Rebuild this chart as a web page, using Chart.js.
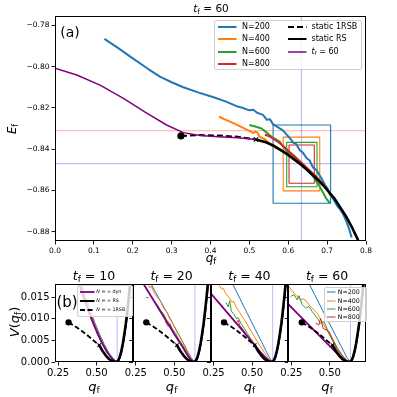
<!DOCTYPE html>
<html>
<head>
<meta charset="utf-8">
<script src="https://cdn.jsdelivr.net/npm/chart.js@4.4.0/dist/chart.umd.min.js"></script>
<style>
  body { margin: 0; width: 397px; height: 397px; position: relative; background: #fff; overflow: hidden; font-family: "DejaVu Sans", sans-serif; }
  canvas { position: absolute; left: 0; }
  .lbl { position: absolute; white-space: nowrap; color: #000; line-height: 1; transform: translate(-50%, -50%); }
  .lbl sub, .leg sub { font-size: 70%; vertical-align: -0.25em; line-height: 0; }
  .rot { transform: translate(-50%, -50%) rotate(-90deg); }
  .leg { position: absolute; background: rgba(255,255,255,0.8); border: 1px solid #d0d0d0; border-radius: 2px; box-sizing: border-box; }
  .leg div { position: absolute; white-space: nowrap; line-height: 1; transform: translateY(-50%); }
  .leg svg { position: absolute; overflow: visible; }
</style>
</head>
<body>
<canvas id="top" width="397" height="270" style="top:0"></canvas>
<canvas id="b1" width="397" height="127" style="top:270px"></canvas>
<canvas id="b2" width="397" height="127" style="top:270px"></canvas>
<canvas id="b3" width="397" height="127" style="top:270px"></canvas>
<canvas id="b4" width="397" height="127" style="top:270px"></canvas>

<div class="lbl" style="left:211px;top:7.5px;font-size:10.5px"><i>t</i><sub>f</sub> = 60</div>
<div class="lbl" style="left:70px;top:32px;font-size:14px">(a)</div>
<div class="lbl rot" style="left:13px;top:129px;font-size:11.5px"><i>E</i><sub>f</sub></div>
<div class="lbl" style="left:211px;top:258px;font-size:12px"><i>q</i><sub>f</sub></div>

<div class="lbl" style="left:94px;top:276px;font-size:12.5px"><i>t</i><sub>f</sub> = 10</div>
<div class="lbl" style="left:171.6px;top:276px;font-size:12.5px"><i>t</i><sub>f</sub> = 20</div>
<div class="lbl" style="left:249.4px;top:276px;font-size:12.5px"><i>t</i><sub>f</sub> = 40</div>
<div class="lbl" style="left:327.1px;top:276px;font-size:12.5px"><i>t</i><sub>f</sub> = 60</div>
<div class="lbl" style="left:67px;top:302px;font-size:15px">(b)</div>
<div class="lbl rot" style="left:14px;top:322px;font-size:13px"><i>V</i>(<i>q</i><sub>f</sub>)</div>
<div class="lbl" style="left:94px;top:386px;font-size:13px"><i>q</i><sub>f</sub></div>
<div class="lbl" style="left:171.6px;top:386px;font-size:13px"><i>q</i><sub>f</sub></div>
<div class="lbl" style="left:249.4px;top:386px;font-size:13px"><i>q</i><sub>f</sub></div>
<div class="lbl" style="left:327.1px;top:386px;font-size:13px"><i>q</i><sub>f</sub></div>

<div class="leg" style="left:214px;top:20px;width:148px;height:50px;font-size:8px">
  <svg style="left:2.5px;top:5.7px" width="19" height="1"><line x1="0" y1="0" x2="18.5" y2="0" stroke="#1f77b4" stroke-width="2"/></svg>
  <div style="left:27px;top:5.7px">N=200</div>
  <svg style="left:2.5px;top:18.2px" width="19" height="1"><line x1="0" y1="0" x2="18.5" y2="0" stroke="#ff7f0e" stroke-width="2"/></svg>
  <div style="left:27px;top:18.2px">N=400</div>
  <svg style="left:2.5px;top:30.7px" width="19" height="1"><line x1="0" y1="0" x2="18.5" y2="0" stroke="#2ca02c" stroke-width="2"/></svg>
  <div style="left:27px;top:30.7px">N=600</div>
  <svg style="left:2.5px;top:43.2px" width="19" height="1"><line x1="0" y1="0" x2="18.5" y2="0" stroke="#d62728" stroke-width="2"/></svg>
  <div style="left:27px;top:43.2px">N=800</div>
  <svg style="left:73px;top:5.7px" width="19" height="1"><line x1="0" y1="0" x2="18.5" y2="0" stroke="#000" stroke-width="2" stroke-dasharray="6,3"/></svg>
  <div style="left:96.5px;top:5.7px">static 1RSB</div>
  <svg style="left:73px;top:18.2px" width="19" height="1"><line x1="0" y1="0" x2="18.5" y2="0" stroke="#000" stroke-width="2"/></svg>
  <div style="left:96.5px;top:18.2px">static RS</div>
  <svg style="left:73px;top:30.7px" width="19" height="1"><line x1="0" y1="0" x2="18.5" y2="0" stroke="#800080" stroke-width="1.5"/></svg>
  <div style="left:96.5px;top:30.7px"><i>t</i><sub>f</sub> = 60</div>
</div>

<div class="leg" style="left:77.3px;top:285px;width:56px;height:31.5px;font-size:4.8px">
  <svg style="left:1.5px;top:6px" width="15" height="1"><line x1="0" y1="0" x2="14.5" y2="0" stroke="#800080" stroke-width="1.8"/></svg>
  <div style="left:18px;top:6px"><i>N</i> = ∞ dyn</div>
  <svg style="left:1.5px;top:15px" width="15" height="1"><line x1="0" y1="0" x2="14.5" y2="0" stroke="#000" stroke-width="2"/></svg>
  <div style="left:18px;top:15px"><i>N</i> = ∞ RS</div>
  <svg style="left:1.5px;top:24px" width="15" height="1"><line x1="0" y1="0" x2="14.5" y2="0" stroke="#000" stroke-width="1.8" stroke-dasharray="5,2.5"/></svg>
  <div style="left:18px;top:24px"><i>N</i> = ∞ 1RSB</div>
</div>

<div class="leg" style="left:324.3px;top:286.7px;width:42.4px;height:35px;font-size:6.3px">
  <svg style="left:1.5px;top:4.8px" width="9" height="1"><line x1="0" y1="0" x2="8.5" y2="0" stroke="#1f77b4" stroke-width="1"/></svg>
  <div style="left:12.5px;top:4.8px">N=200</div>
  <svg style="left:1.5px;top:13px" width="9" height="1"><line x1="0" y1="0" x2="8.5" y2="0" stroke="#ff7f0e" stroke-width="1"/></svg>
  <div style="left:12.5px;top:13px">N=400</div>
  <svg style="left:1.5px;top:21.2px" width="9" height="1"><line x1="0" y1="0" x2="8.5" y2="0" stroke="#2ca02c" stroke-width="1"/></svg>
  <div style="left:12.5px;top:21.2px">N=600</div>
  <svg style="left:1.5px;top:29.4px" width="9" height="1"><line x1="0" y1="0" x2="8.5" y2="0" stroke="#d62728" stroke-width="1"/></svg>
  <div style="left:12.5px;top:29.4px">N=800</div>
</div>

<script>
// ---- panel (a): E_f vs q_f at t_f = 60 ----
const topQTicks = [0.0, 0.1, 0.2, 0.3, 0.4, 0.5, 0.6, 0.7, 0.8];
const topETicks = [-0.88, -0.86, -0.84, -0.82, -0.80, -0.78];
const topQRange = [0, 0.8];
const topERange = [-0.8845, -0.7755];

const topN200 = [[0.127,-0.7866],[0.16,-0.7907],[0.20,-0.7960],[0.24,-0.8012],[0.27,-0.8049],[0.30,-0.8076],
  [0.33,-0.8100],[0.37,-0.8126],[0.41,-0.8150],[0.44,-0.8170],[0.467,-0.8192],[0.48,-0.8198],[0.50,-0.8212],
  [0.51,-0.8209],[0.52,-0.8224],[0.535,-0.8234],[0.545,-0.8258],[0.553,-0.8255],[0.561,-0.8280],[0.57,-0.8290],
  [0.58,-0.8302],[0.587,-0.8310],[0.596,-0.8330],[0.604,-0.8347],[0.613,-0.8368],[0.62,-0.8375],[0.63,-0.8405],
  [0.638,-0.8418],[0.647,-0.8443],[0.655,-0.8455],[0.664,-0.8490],[0.672,-0.8500],[0.681,-0.8528],[0.688,-0.8550],
  [0.695,-0.8575],[0.701,-0.8590],[0.707,-0.8620],[0.714,-0.8635],[0.72,-0.8655],[0.727,-0.8678],[0.733,-0.8690],
  [0.742,-0.8718],[0.750,-0.8752],[0.757,-0.8790],[0.763,-0.8828]];
const topN400 = [[0.422,-0.8243],[0.44,-0.8258],[0.46,-0.8275],[0.48,-0.8293],[0.50,-0.8312],[0.51,-0.8322],
  [0.515,-0.8315],[0.521,-0.8320],[0.526,-0.8339],[0.54,-0.8352],[0.561,-0.8388],[0.587,-0.8412],[0.60,-0.8428],
  [0.62,-0.8458],[0.65,-0.8502],[0.68,-0.8556],[0.70,-0.8598],[0.72,-0.8645]];
const topN600 = [[0.50,-0.8283],[0.515,-0.8290],[0.531,-0.8300],[0.545,-0.8320],[0.557,-0.8340],[0.568,-0.8352],
  [0.578,-0.8364],[0.59,-0.8395],[0.60,-0.8418],[0.608,-0.8428],[0.62,-0.8448],[0.635,-0.8475],[0.65,-0.8502],
  [0.665,-0.8535],[0.681,-0.8581],[0.69,-0.8612],[0.698,-0.8640],[0.707,-0.8662]];
const topN800 = [[0.54,-0.8330],[0.55,-0.8336],[0.56,-0.8348],[0.57,-0.8360],[0.58,-0.8374],[0.59,-0.8390],
  [0.60,-0.8408],[0.615,-0.8432],[0.63,-0.8458],[0.645,-0.8485],[0.66,-0.8512],[0.675,-0.8540],[0.69,-0.8568]];
const top1RSB = [[0.324,-0.8336],[0.37,-0.8332],[0.42,-0.8334],[0.47,-0.8340],[0.517,-0.8353]];
const topRS = [[0.517,-0.8353],[0.54,-0.8365],[0.56,-0.8381],[0.58,-0.8404],[0.60,-0.8428],[0.63,-0.8470],
  [0.66,-0.8520],[0.69,-0.8575],[0.72,-0.8642],[0.75,-0.8730],[0.765,-0.8783],[0.78,-0.8842]];
const topTf60 = [[0.0,-0.8008],[0.056,-0.8041],[0.116,-0.8090],[0.176,-0.8154],[0.236,-0.8226],[0.287,-0.8283],
  [0.33,-0.8320],[0.373,-0.8334],[0.42,-0.8340],[0.47,-0.8345],[0.517,-0.8353]];
const topDot = [0.324, -0.8336];
const topCross = [0.517, -0.8353];
// boxes: [q0, q1, E0, E1] for N = 200, 400, 600, 800
const boxN200 = [0.561, 0.709, -0.8662, -0.8283];
const boxN400 = [0.587, 0.681, -0.8602, -0.8342];
const boxN600 = [0.596, 0.674, -0.8582, -0.8367];
const boxN800 = [0.602, 0.667, -0.8565, -0.8380];
const qStar = 0.634;
const eRed = -0.831;
const eBlue = -0.847;

// ---- panels (b): V(q_f) ----
const botQTicks = [0.25, 0.50];
const botVTicks = [0.000, 0.005, 0.010, 0.015];
const botQRange = [0.23, 0.735];
const botVRange = [0, 0.0181];

const bRS = [[0.517,0.0039],[0.54,0.0025],[0.56,0.0015],[0.58,0.0007],[0.60,0.00025],[0.615,0.00005],[0.628,0],
  [0.64,0.0003],[0.65,0.0011],[0.66,0.0024],[0.67,0.0042],[0.68,0.0064],[0.69,0.0089],[0.70,0.0119],
  [0.71,0.0153],[0.72,0.0190]];
const b1RSB = [[0.318,0.0092],[0.36,0.0083],[0.40,0.0073],[0.44,0.0062],[0.48,0.0050],[0.517,0.0039]];
const bDot = [0.318, 0.0092];
const bCross = [0.517, 0.0039];
const rightBlue = [[0.633,0],[0.645,0.0005],[0.655,0.0014],[0.665,0.0028],[0.675,0.0047],[0.685,0.0070],
  [0.695,0.0096],[0.705,0.0127],[0.715,0.0161],[0.724,0.0195]];
const rightColor = [[0.631,0],[0.643,0.0004],[0.653,0.0012],[0.663,0.0026],[0.673,0.0044],[0.683,0.0066],
  [0.693,0.0092],[0.703,0.0122],[0.713,0.0156],[0.722,0.0192]];

const tf10N200 = [[0.40,0.0185],[0.43,0.0150],[0.46,0.0119],[0.49,0.0090],[0.52,0.0064],[0.55,0.0041],[0.58,0.0021],[0.61,0.0007]];
const tf10N400 = [[0.395,0.0185],[0.425,0.0149],[0.455,0.0118],[0.485,0.0089],[0.515,0.0063],[0.545,0.0041],[0.575,0.0021],[0.605,0.0007]];
const tf10N600 = [[0.38,0.0185],[0.41,0.0150],[0.43,0.0132],[0.44,0.0127],[0.45,0.0112],[0.47,0.0097],[0.49,0.0080],
  [0.50,0.0073],[0.51,0.0068],[0.53,0.0050],[0.56,0.0030],[0.59,0.0013],[0.61,0.0005]];
const tf10N800 = [[0.45,0.0112],[0.48,0.0086],[0.51,0.0062],[0.54,0.0040],[0.57,0.0021],[0.60,0.0008]];
const tf10Dyn = [[0.385,0.0185],[0.39,0.0180],[0.42,0.0147],[0.45,0.0117],[0.48,0.0089],[0.51,0.0063],[0.54,0.0041],
  [0.57,0.0022],[0.60,0.0008],[0.62,0.0002]];

const tf20N200 = [[0.345,0.0184],[0.40,0.0148],[0.45,0.0116],[0.50,0.0083],[0.55,0.0050],[0.59,0.0022],[0.61,0.0010]];
const tf20N400 = [[0.33,0.0184],[0.34,0.0172],[0.35,0.0176],[0.37,0.0160],[0.39,0.0150],[0.41,0.0141],[0.43,0.0125],
  [0.45,0.0117],[0.47,0.0100],[0.49,0.0090],[0.51,0.0074],[0.53,0.0062],[0.55,0.0048],[0.57,0.0034],[0.59,0.0020],[0.61,0.0008]];
const tf20N600 = [[0.315,0.0150],[0.333,0.0149],null,[0.37,0.0140],[0.39,0.0133],[0.41,0.0120],[0.43,0.0112],
  [0.45,0.0097],[0.47,0.0090],[0.49,0.0075],[0.51,0.0066],[0.53,0.0052],[0.55,0.0041],[0.57,0.0029],[0.59,0.0017],[0.61,0.0006]];
const tf20N800 = [[0.44,0.0095],[0.46,0.0083],[0.47,0.0088],[0.49,0.0070],[0.51,0.0058],[0.53,0.0048],[0.55,0.0038],
  [0.57,0.0027],[0.59,0.0015],[0.61,0.0005]];
const tf20Dyn = [[0.295,0.0184],[0.35,0.0152],[0.40,0.0123],[0.45,0.0094],[0.50,0.0065],[0.55,0.0037],[0.59,0.0013],[0.61,0.0004]];

const tf40N200 = [[0.37,0.0184],[0.42,0.0148],[0.47,0.0112],[0.52,0.0076],[0.56,0.0048],[0.59,0.0026],[0.61,0.0012]];
const tf40N400 = [[0.275,0.0184],[0.30,0.0170],[0.31,0.0172],[0.33,0.0158],[0.35,0.0150],[0.37,0.0139],[0.38,0.0141],
  [0.40,0.0125],[0.42,0.0115],[0.44,0.0103],[0.46,0.0093],[0.48,0.0079],[0.50,0.0068],[0.52,0.0056],[0.54,0.0044],
  [0.56,0.0033],[0.58,0.0022],[0.60,0.0011],[0.62,0.0003]];
const tf40N600 = [[0.33,0.0138],[0.345,0.0128],[0.355,0.0142],[0.365,0.0118],[0.38,0.0112],[0.40,0.0100],[0.41,0.0103],
  [0.43,0.0088],[0.45,0.0078],[0.47,0.0066],[0.49,0.0055],[0.51,0.0045],[0.53,0.0035],[0.55,0.0026],[0.57,0.0017],
  [0.59,0.0009],[0.61,0.0003]];
const tf40N800 = [[0.40,0.0092],[0.41,0.0097],[0.42,0.0085],[0.44,0.0076],[0.46,0.0066],[0.48,0.0056],[0.50,0.0046],
  [0.52,0.0037],[0.54,0.0028],[0.57,0.0016],[0.60,0.0006]];
const tf40Dyn = [[0.23,0.0160],[0.30,0.0131],[0.35,0.0110],[0.40,0.0089],[0.45,0.0068],[0.50,0.0046],[0.55,0.0025],
  [0.58,0.0013],[0.61,0.0003]];

const tf60N200 = [[0.362,0.0184],[0.40,0.0157],[0.45,0.0122],[0.50,0.0088],[0.55,0.0053],[0.59,0.0025],[0.61,0.0011]];
const tf60N400 = [[0.2345,0.0175],[0.267,0.0160],[0.31,0.0144],[0.332,0.0147],[0.375,0.0129],[0.418,0.0113],
  [0.462,0.0086],[0.505,0.0059],[0.54,0.0035],[0.57,0.0016],[0.60,0.0005]];
const tf60N600 = [[0.2454,0.0152],[0.267,0.0156],[0.289,0.0144],[0.2995,0.0154],[0.321,0.0133],[0.343,0.0125],
  [0.364,0.0129],[0.386,0.0117],[0.418,0.0102],[0.44,0.0090],[0.462,0.0094],[0.494,0.0067],[0.548,0.0028],[0.60,0.0006]];
const tf60N800 = [[0.408,0.0090],[0.429,0.0086],[0.44,0.0101],[0.457,0.0078],[0.494,0.0071],[0.52,0.0052],
  [0.55,0.0032],[0.58,0.0016],[0.61,0.0004]];
const tf60Dyn = [[0.23,0.0134],[0.30,0.0109],[0.35,0.0091],[0.40,0.0073],[0.45,0.0055],[0.50,0.0037],[0.55,0.0019],
  [0.58,0.0009],[0.61,0.0002]];

const C0 = '#1f77b4', C1 = '#ff7f0e', C2 = '#2ca02c', C3 = '#d62728', PUR = '#800080';
const LBLUE = 'rgba(40,40,255,0.32)', LRED = 'rgba(255,40,40,0.3)';
const FONT = 'DejaVu Sans';

const xy = a => a.map(p => p === null ? {x: null, y: null} : {x: p[0], y: p[1]});
function line(data, color, width, order, dash) {
  return { data: xy(data), showLine: true, borderColor: color, backgroundColor: color, borderWidth: width,
    pointRadius: 0, pointHoverRadius: 0, fill: false, order: order, borderDash: dash || [], clip: 0,
    tension: 0, spanGaps: false, borderJoinStyle: 'round', borderCapStyle: 'butt' };
}
function dot(p, r, order) {
  return { data: xy([p]), showLine: false, pointRadius: r, pointBackgroundColor: '#000', pointBorderColor: '#000',
    pointBorderWidth: 0, order: order, clip: false };
}
function cross(p, r, order) {
  return { data: xy([p]), showLine: false, pointStyle: 'crossRot', pointRadius: r, pointBorderColor: '#000',
    pointBorderWidth: 1.1, order: order, clip: false };
}
function rect(b, color, order) {
  return line([[b[0], b[2]], [b[1], b[2]], [b[1], b[3]], [b[0], b[3]], [b[0], b[2]]], color, 1.1, order);
}
function axis(range, ticks, fmt, size, show, fit, horiz) {
  return {
    type: 'linear', min: range[0], max: range[1],
    afterBuildTicks: s => { s.ticks = ticks.map(v => ({ value: v })); },
    afterFit: s => {
      if (horiz) s.height = fit; else s.width = fit;
      s.paddingLeft = 0; s.paddingRight = 0; s.paddingTop = 0; s.paddingBottom = 0;
    },
    grid: { display: true, drawOnChartArea: false, drawTicks: true, tickLength: 3.5, tickWidth: 0.9, tickColor: '#000' },
    border: { display: false },
    ticks: { display: show, callback: v => fmt(v), color: '#000', font: { family: FONT, size: size },
      padding: 2, maxRotation: 0, autoSkip: false }
  };
}
const frame = {
  id: 'frame',
  afterDatasetsDraw(c) {
    const a = c.chartArea, g = c.ctx;
    g.save();
    g.strokeStyle = '#000';
    g.lineWidth = 1;
    const l = Math.round(a.left) + 0.5, t = Math.round(a.top) + 0.5;
    const r = Math.round(a.right) - 0.5, b = Math.round(a.bottom) - 0.5;
    g.strokeRect(l, t, r - l, b - t);
    g.restore();
  }
};
const baseOpts = {
  responsive: false, animation: false, devicePixelRatio: 1,
  plugins: { legend: { display: false }, tooltip: { enabled: false } },
  events: []
};
const minus = v => (v < 0 ? '\u2212' : '') + Math.abs(v).toFixed(2);

// top chart: plot area x 55..366, y 16..241
new Chart(document.getElementById('top'), {
  type: 'scatter',
  data: { datasets: [
    line([[qStar, topERange[0]], [qStar, topERange[1]]], LBLUE, 1.2, 20),
    line([[topQRange[0], eRed], [topQRange[1], eRed]], LRED, 1.2, 20),
    line([[topQRange[0], eBlue], [topQRange[1], eBlue]], LBLUE, 1.2, 20),
    rect(boxN200, C0, 15), rect(boxN400, C1, 14), rect(boxN600, C2, 13), rect(boxN800, C3, 12),
    line(topN200, C0, 2, 9), line(topN400, C1, 2, 8), line(topN600, C2, 2, 7), line(topN800, C3, 2, 6),
    line(top1RSB, '#000', 2, 4, [6, 3]),
    line(topRS, '#000', 2.6, 3),
    line(topTf60, PUR, 1.5, 2),
    dot(topDot, 3.6, 1), cross(topCross, 3, 0)
  ] },
  options: Object.assign({}, baseOpts, {
    layout: { padding: { left: 0, right: 31, top: 16, bottom: 0 } },
    scales: {
      x: axis(topQRange, topQTicks, v => v.toFixed(1), 7.5, true, 29, true),
      y: axis(topERange, topETicks, minus, 7.5, true, 55, false)
    }
  }),
  plugins: [frame]
});

// bottom panels: plot area y 284..362, x split 55..366 in four
const panelL = [55, 132.75, 210.5, 288.25];
const panelW = 77.75;
const panels = [
  ['b1', tf10N200, tf10N400, tf10N600, tf10N800, tf10Dyn],
  ['b2', tf20N200, tf20N400, tf20N600, tf20N800, tf20Dyn],
  ['b3', tf40N200, tf40N400, tf40N600, tf40N800, tf40Dyn],
  ['b4', tf60N200, tf60N400, tf60N600, tf60N800, tf60Dyn]
];
panels.forEach((p, i) => {
  const yW = i === 0 ? 55 : 4;
  new Chart(document.getElementById(p[0]), {
    type: 'scatter',
    data: { datasets: [
      line([[qStar, botVRange[0]], [qStar, botVRange[1]]], LBLUE, 1, 20),
      line(p[1].concat(rightBlue), C0, 1, 9),
      line(p[2].concat(rightColor), C1, 1, 8),
      line(p[3].concat(rightColor), C2, 1, 7),
      line(p[4].concat(rightColor), C3, 1, 6),
      line(p[5].concat(rightColor), PUR, 1.8, 5),
      line(b1RSB, '#000', 1.8, 3, [5, 2.5]),
      line(bRS, '#000', 2.6, 2),
      dot(bDot, 3.2, 1), cross(bCross, 2.5, 0)
    ] },
    options: Object.assign({}, baseOpts, {
      layout: { padding: { left: panelL[i] - yW, right: 397 - panelL[i] - panelW, top: 14, bottom: 0 } },
      scales: {
        x: axis(botQRange, botQTicks, v => v.toFixed(2), 10, true, 35, true),
        y: axis(botVRange, botVTicks, v => v.toFixed(3), 10, i === 0, yW, false)
      }
    }),
    plugins: [frame]
  });
});
</script>
</body>
</html>
